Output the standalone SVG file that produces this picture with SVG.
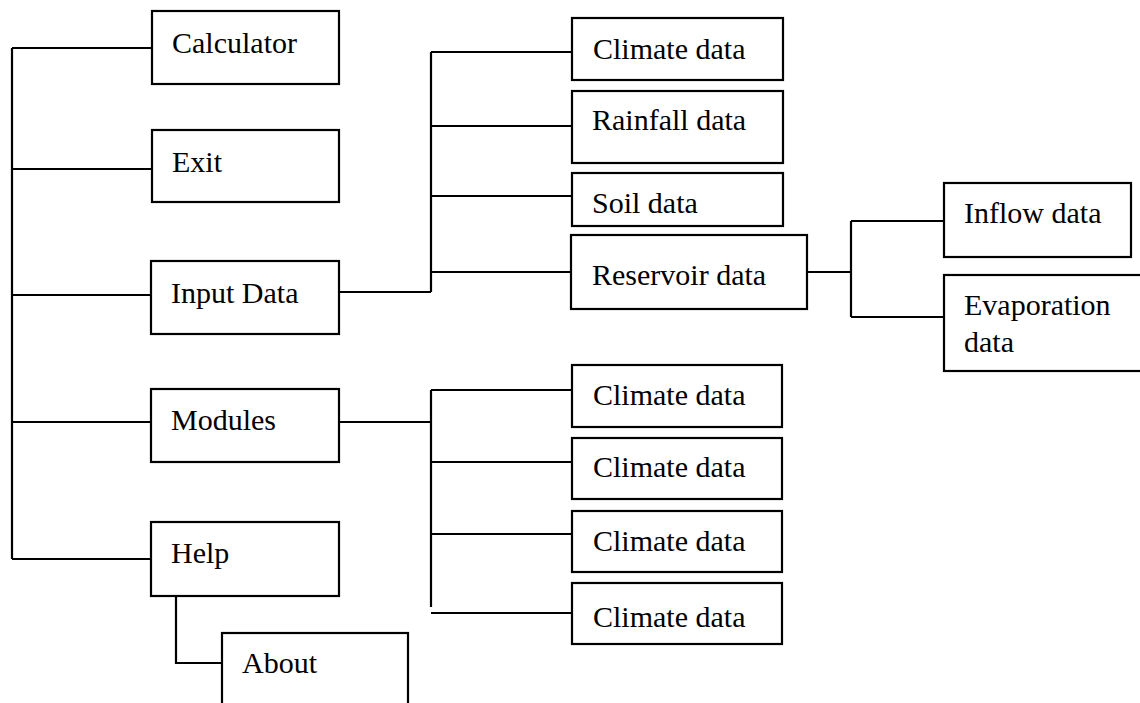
<svg xmlns="http://www.w3.org/2000/svg" width="1140" height="703" viewBox="0 0 1140 703">
<style>
.box{fill:#fff;stroke:#000;stroke-width:2.2}
.lbl{font-family:"Liberation Serif","Times New Roman",serif;font-size:30px;fill:#000}
.con{fill:none;stroke:#000;stroke-width:2.2}
</style>
<rect width="1140" height="703" fill="#fff"/>
<g id="connectors">
<path class="con" d="M12 48V559M12 48H152M12 169H152M12 295H152M12 422H152M12 559H152"/>
<path class="con" d="M176 596V663H222"/>
<path class="con" d="M339 292H431M431 52V292M431 52H572M431 126H572M431 196H572M431 272H572"/>
<path class="con" d="M339 422H431M431 390V607M431 390H572M431 462H572M431 534H572M431 613H572"/>
<path class="con" d="M807 272H851M851 221V317M851 221H944M851 317H944"/>
</g>
<g id="calculator"><rect class="box" x="152" y="11" width="187" height="73"/><text class="lbl" x="172" y="53">Calculator</text></g>
<g id="exit"><rect class="box" x="152" y="130" width="187" height="72"/><text class="lbl" x="172" y="172">Exit</text></g>
<g id="input-data"><rect class="box" x="151" y="261" width="188" height="73"/><text class="lbl" x="171" y="303">Input Data</text></g>
<g id="modules"><rect class="box" x="151" y="389" width="188" height="73"/><text class="lbl" x="171" y="430">Modules</text></g>
<g id="help"><rect class="box" x="151" y="522" width="188" height="74"/><text class="lbl" x="171" y="563">Help</text></g>
<g id="about"><rect class="box" x="222" y="633" width="186" height="80"/><text class="lbl" x="242" y="673">About</text></g>
<g id="climate-1"><rect class="box" x="572" y="18" width="211" height="62"/><text class="lbl" x="593" y="59">Climate data</text></g>
<g id="rainfall"><rect class="box" x="572" y="91" width="211" height="72"/><text class="lbl" x="592" y="130">Rainfall data</text></g>
<g id="soil"><rect class="box" x="572" y="173" width="211" height="53"/><text class="lbl" x="592" y="213">Soil data</text></g>
<g id="reservoir"><rect class="box" x="571" y="235" width="236" height="74"/><text class="lbl" x="592" y="285">Reservoir data</text></g>
<g id="inflow"><rect class="box" x="944" y="183" width="187" height="74"/><text class="lbl" x="964" y="223">Inflow data</text></g>
<g id="evaporation"><rect class="box" x="944" y="275" width="200" height="96"/><text class="lbl" x="964" y="315">Evaporation</text><text class="lbl" x="964" y="352">data</text></g>
<g id="module-climate-1"><rect class="box" x="572" y="365" width="210" height="62"/><text class="lbl" x="593" y="405">Climate data</text></g>
<g id="module-climate-2"><rect class="box" x="572" y="438" width="210" height="61"/><text class="lbl" x="593" y="477">Climate data</text></g>
<g id="module-climate-3"><rect class="box" x="572" y="511" width="210" height="61"/><text class="lbl" x="593" y="551">Climate data</text></g>
<g id="module-climate-4"><rect class="box" x="572" y="583" width="210" height="61"/><text class="lbl" x="593" y="627">Climate data</text></g>
</svg>
